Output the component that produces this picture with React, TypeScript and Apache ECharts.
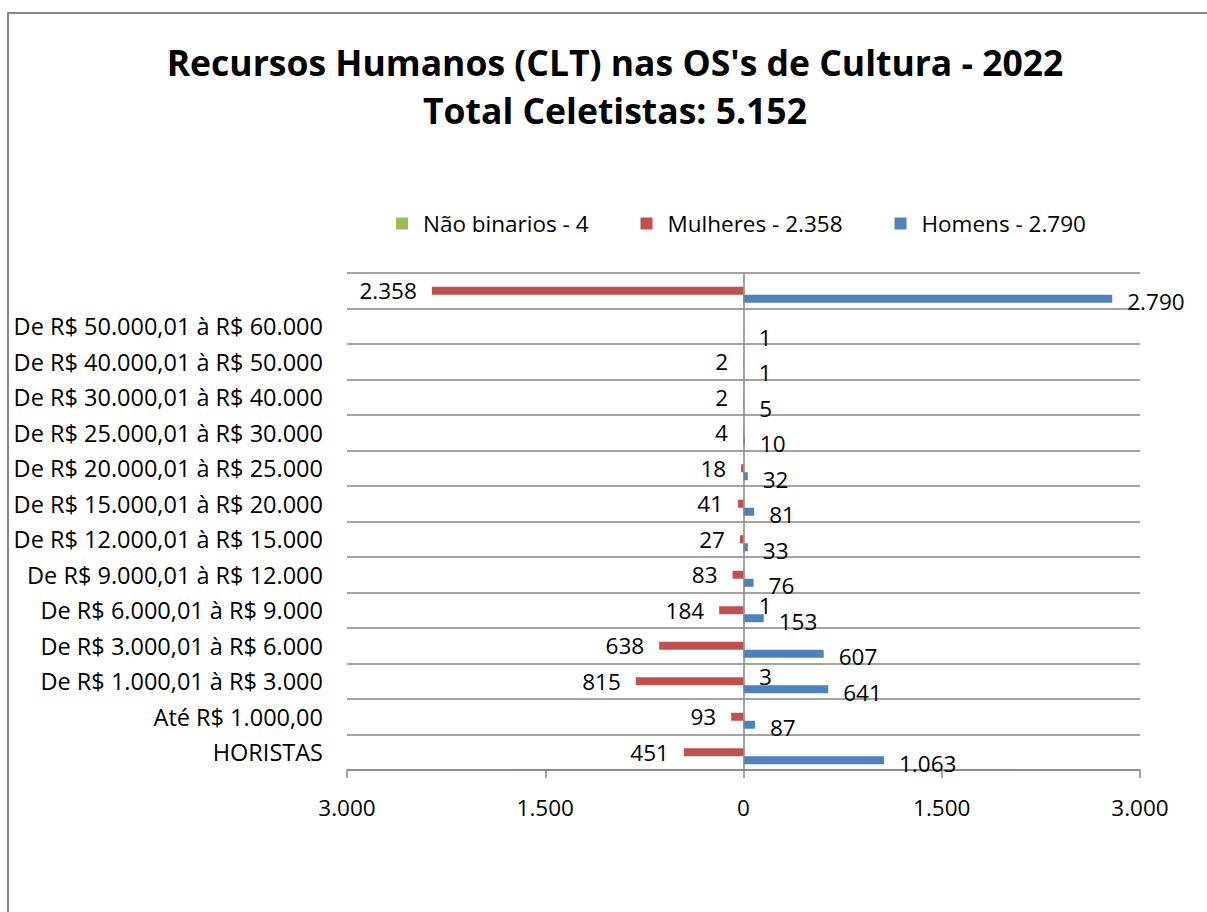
import React, { useEffect, useRef } from "react";
import * as echarts from "echarts";

const categories = [
  "HORISTAS",
  "Até R$ 1.000,00",
  "De R$ 1.000,01 à R$ 3.000",
  "De R$ 3.000,01 à R$ 6.000",
  "De R$ 6.000,01 à R$ 9.000",
  "De R$ 9.000,01 à R$ 12.000",
  "De R$ 12.000,01 à R$ 15.000",
  "De R$ 15.000,01 à R$ 20.000",
  "De R$ 20.000,01 à R$ 25.000",
  "De R$ 25.000,01 à R$ 30.000",
  "De R$ 30.000,01 à R$ 40.000",
  "De R$ 40.000,01 à R$ 50.000",
  "De R$ 50.000,01 à R$ 60.000",
  "",
];
const naoBinarios = [0, 0, 3, 0, 1, 0, 0, 0, 0, 0, 0, 0, 0, 0];
const mulheres = [451, 93, 815, 638, 184, 83, 27, 41, 18, 4, 2, 2, 0, 2358];
const homens = [1063, 87, 641, 607, 153, 76, 33, 81, 32, 10, 5, 1, 1, 2790];
const legendNames = ["Não binarios - 4", "Mulheres - 2.358", "Homens - 2.790"];
const titleLines = ["Recursos Humanos (CLT) nas OS's de Cultura - 2022", "Total Celetistas: 5.152"];

const FONT = "'Open Sans', sans-serif";
const FS = 22.5;

function fmt(v: number): string {
  const a = Math.abs(Math.round(v));
  return String(a).replace(/\B(?=(\d{3})+(?!\d))/g, ".");
}

export default function App() {
  const ref = useRef<HTMLDivElement>(null);
  useEffect(() => {
    if (!ref.current) return;
    const chart = echarts.init(ref.current, undefined, { renderer: "svg" });
    const labelFmt = (p: any) => (p.value === 0 || p.value == null ? "" : fmt(p.value));
    const labelStyle = { fontSize: FS, fontFamily: FONT, color: "#000", distance: 15 };
    chart.setOption({
      animation: false,
      backgroundColor: "#fff",
      title: {
        text: titleLines.join("\n"),
        left: 610,
        textAlign: "center",
        top: 33,
        textStyle: { fontFamily: FONT, fontWeight: "bold", fontSize: 35.5, lineHeight: 48, color: "#000" },
      },
      graphic: [
        {
          type: "rect",
          shape: { x: 8, y: 13, width: 1400, height: 1200 },
          style: { fill: "none", stroke: "#888", lineWidth: 2 },
          silent: true,
        },
      ],
      legend: {
        left: 391,
        top: 207,
        itemWidth: 12,
        itemHeight: 12,
        itemGap: 52,
        icon: "rect",
        textStyle: { fontFamily: FONT, fontSize: FS, color: "#000", padding: [0, 0, 0, 10] },
        data: legendNames,
      },
      grid: { left: 347, right: 67, top: 273, bottom: 142 },
      xAxis: {
        type: "value",
        min: -3000,
        max: 3000,
        interval: 1500,
        axisLine: { show: true, lineStyle: { color: "#868686", width: 1.5 } },
        axisTick: { show: true, length: 8, lineStyle: { color: "#868686", width: 1.5 } },
        splitLine: { show: false },
        axisLabel: {
          margin: 26,
          fontFamily: FONT,
          fontSize: FS,
          color: "#000",
          formatter: (v: number) => fmt(v),
        },
      },
      yAxis: {
        type: "category",
        data: categories,
        axisLine: { show: false },
        axisTick: { show: false },
        splitLine: { show: true, lineStyle: { color: "#868686", width: 1.5 } },
        axisLabel: { margin: 24, fontFamily: FONT, fontSize: 23.5, color: "#000" },
      },
      series: [
        {
          name: legendNames[0],
          type: "bar",
          data: naoBinarios,
          barWidth: 8,
          barGap: "0%",
          itemStyle: { color: "#9BBB59" },
          label: { show: true, position: "right", offset: [0, 3], formatter: labelFmt, ...labelStyle },
        },
        {
          name: legendNames[1],
          type: "bar",
          data: mulheres.map((v) => -v),
          barWidth: 8,
          barGap: "0%",
          itemStyle: { color: "#C0504D" },
          label: { show: true, position: "left", formatter: labelFmt, ...labelStyle },
          markLine: {
            silent: true,
            symbol: "none",
            label: { show: false },
            lineStyle: { color: "#868686", width: 1.5, type: "solid" },
            data: [{ xAxis: 0 }],
          },
        },
        {
          name: legendNames[2],
          type: "bar",
          data: homens,
          barWidth: 8,
          barGap: "0%",
          itemStyle: { color: "#4F81BD" },
          label: { show: true, position: "right", offset: [0, 3], formatter: labelFmt, ...labelStyle },
        },
      ],
    });
    return () => chart.dispose();
  }, []);
  return (
    <div
      ref={ref}
      style={{ position: "absolute", left: 0, top: 0, width: 1207, height: 912 }}
    />
  );
}
